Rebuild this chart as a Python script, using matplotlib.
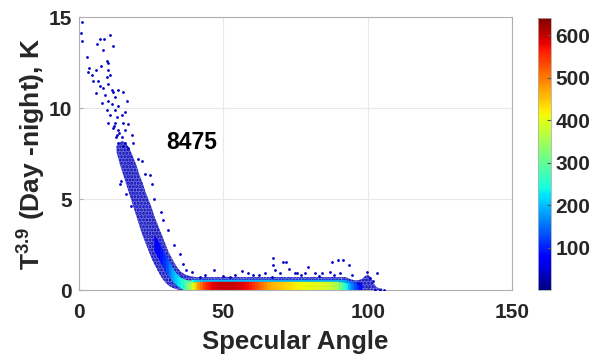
import numpy as np
import matplotlib
matplotlib.use("Agg")
import matplotlib.pyplot as plt
from matplotlib.colors import Normalize

plt.rcParams['font.family'] = ['Liberation Sans', 'DejaVu Sans']
plt.rcParams['font.weight'] = 'bold'
plt.rcParams['mathtext.fontset'] = 'custom'
plt.rcParams['mathtext.rm'] = 'Liberation Sans:bold'
plt.rcParams['mathtext.bf'] = 'Liberation Sans:bold'
plt.rcParams['hatch.linewidth'] = 1.4

# ---- data ----
# sparse individual points in the steep upper part (angle, T)
sparse_angle = [1.1, 0.7, 1.1, 7.3, 10.7, 8.7, 6.1, 8.4, 11.9, 2.7, 9.6, 10.2, 3.5, 3.2,
                5.8, 7.6, 4.4, 9.9, 10.7, 9.6, 6.7, 5.0, 7.3, 8.4, 10.2, 11.3, 5.9, 9.0,
                11.9, 13.6, 15.3, 12.5, 16.5, 10.2, 7.9, 11.3, 13.6, 9.6, 12.5, 15.9, 10.7,
                13.1, 14.8, 10.2, 12.5, 15.3, 17.1, 11.9, 13.6, 15.9, 13.1, 14.8, 18.3,
                13.6, 15.9, 18.8, 15.3, 17.1, 22.9, 25.2, 29.2, 20.5, 14.2, 12.0,
                22.0, 24.5, 26.0, 28.5, 31.0, 33.0, 35.0, 14.5, 16.2, 18.0, 12.8, 14.0]
sparse_t = [14.7, 14.1, 13.7, 13.8, 14.0, 13.8, 13.5, 13.2, 13.4, 12.8, 12.6, 12.5, 12.2, 12.0,
            12.1, 12.3, 11.8, 12.1, 11.8, 11.7, 11.5, 11.5, 11.2, 11.1, 11.3, 11.0, 10.8, 10.7,
            10.9, 11.0, 10.9, 10.6, 10.4, 10.4, 10.3, 10.2, 10.1, 9.9, 9.9, 9.8, 9.6,
            9.5, 9.6, 9.2, 9.2, 9.2, 9.1, 8.9, 8.8, 8.8, 8.5, 8.4, 8.5,
            8.1, 8.1, 8.1, 7.9, 7.8, 6.4, 5.8, 3.85, 7.2, 5.8, 9.0,
            7.1, 6.3, 5.0, 4.3, 3.3, 2.5, 2.0, 6.0, 5.3, 4.6, 8.4, 8.6]

# outliers above the flat band (angle, T)
out_angle = [35.9, 37.1, 39.0, 46.9, 49.8, 52.3, 56.4, 58.6, 60.4, 64.4, 67.1, 67.1, 67.9,
             70.5, 71.7, 72.8, 69.6, 74.8, 66.7, 41.9, 43.6, 87.5, 89.6, 91.5, 93.5, 79.4,
             78.3, 81.7, 84.1, 86.9, 90.4, 94.5, 99.9, 103.3, 75.4, 100.8, 101.9, 96.7,
             102.5, 104.3, 105.5, 54.0, 62.5, 77.0, 83.0, 88.5]
out_t = [1.43, 1.10, 1.00, 1.10, 0.77, 0.73, 1.04, 0.92, 0.82, 0.92, 1.74, 1.37, 1.10,
         1.56, 1.56, 1.14, 0.92, 0.92, 0.73, 0.73, 0.82, 1.52, 1.65, 1.65, 1.36, 1.25,
         0.95, 0.92, 0.95, 0.97, 0.92, 0.82, 1.00, 0.92, 0.92, 0.64, 0.51, 0.37,
         0.02, 0.02, 0.02, 0.80, 0.85, 0.80, 0.78, 0.85]

# outer envelope of the dense cloud, one column per degree
outer_angle = list(range(13, 106))
outer_lo = [7.6, 7.0, 6.5, 6.0, 5.5, 5.0, 4.5, 4.0, 3.5, 3.0,
            2.6, 2.2, 1.8, 1.45, 1.15, 0.85, 0.6, 0.4, 0.25, 0.15,
            0.08, 0.03, 0, 0, 0, 0, 0, 0, 0, 0,
            0, 0, 0, 0, 0, 0, 0, 0, 0, 0,
            0, 0, 0, 0, 0, 0, 0, 0, 0, 0,
            0, 0, 0, 0, 0, 0, 0, 0, 0, 0,
            0, 0, 0, 0, 0, 0, 0, 0, 0, 0,
            0, 0, 0, 0, 0, 0, 0, 0, 0, 0,
            0, 0, 0, 0, 0, 0, 0, 0, 0, 0,
            0, 0, 0]
outer_hi = [7.9, 8.1, 8.2, 8.1, 7.9, 7.6, 7.2, 6.8, 6.3, 5.9,
            5.4, 5.0, 4.6, 4.1, 3.7, 3.3, 2.9, 2.5, 2.1, 1.8,
            1.5, 1.25, 1.05, 0.92, 0.84, 0.78, 0.74, 0.72, 0.7, 0.71,
            0.7, 0.72, 0.7, 0.71, 0.7, 0.72, 0.7, 0.71, 0.73, 0.7,
            0.71, 0.7, 0.72, 0.7, 0.71, 0.7, 0.72, 0.71, 0.7, 0.72,
            0.7, 0.71, 0.7, 0.72, 0.7, 0.71, 0.7, 0.72, 0.71, 0.7,
            0.72, 0.7, 0.71, 0.7, 0.72, 0.7, 0.71, 0.7, 0.72, 0.71,
            0.7, 0.72, 0.7, 0.71, 0.7, 0.72, 0.7, 0.71, 0.7, 0.7,
            0.68, 0.6, 0.55, 0.52, 0.55, 0.6, 0.75, 0.85, 0.7, 0.4,
            0.15, 0.1, 0.08]
outer_den = [35] * 93

# lighter inner streak of the cloud
mid_angle = list(range(26, 99))
mid_lo = [2.2, 1.9, 1.6, 1.3, 1.0, 0.8, 0.6, 0.4, 0.25, 0.15,
          0.05, 0, 0, 0, 0, 0, 0, 0, 0, 0,
          0, 0, 0, 0, 0, 0, 0, 0, 0, 0,
          0, 0, 0, 0, 0, 0, 0, 0, 0, 0,
          0, 0, 0, 0, 0, 0, 0, 0, 0, 0,
          0, 0, 0, 0, 0, 0, 0, 0, 0, 0,
          0, 0, 0, 0, 0, 0, 0, 0, 0, 0,
          0, 0, 0]
mid_hi = [3.0, 2.8, 2.5, 2.2, 1.9, 1.6, 1.3, 1.05, 0.85, 0.7,
          0.62, 0.57, 0.54, 0.53, 0.53, 0.53, 0.53, 0.53, 0.53, 0.53,
          0.53, 0.53, 0.53, 0.53, 0.53, 0.53, 0.53, 0.53, 0.53, 0.53,
          0.53, 0.53, 0.53, 0.53, 0.53, 0.53, 0.53, 0.53, 0.53, 0.53,
          0.53, 0.53, 0.53, 0.53, 0.53, 0.53, 0.53, 0.53, 0.53, 0.53,
          0.53, 0.53, 0.53, 0.53, 0.53, 0.53, 0.53, 0.53, 0.53, 0.53,
          0.53, 0.53, 0.53, 0.53, 0.53, 0.53, 0.53, 0.53, 0.5, 0.45,
          0.42, 0.4, 0.4]
mid_den = [70, 80, 95, 110, 130, 160, 190, 210, 230, 250,
           270, 290, 300, 260, 220, 210, 200, 200, 200, 200,
           200, 200, 200, 200, 200, 200, 200, 200, 200, 200,
           200, 200, 200, 200, 200, 200, 200, 200, 200, 200,
           190, 190, 190, 190, 190, 190, 190, 190, 190, 190,
           190, 190, 190, 190, 190, 190, 190, 190, 190, 190,
           190, 190, 190, 190, 190, 190, 180, 170, 150, 130,
           110, 90, 80]

# dense core along the bottom
core_angle = list(range(37, 97))
core_hi = [0.38, 0.4, 0.42, 0.43, 0.44, 0.44, 0.44, 0.44, 0.44, 0.44,
           0.44, 0.44, 0.44, 0.44, 0.44, 0.44, 0.44, 0.44, 0.44, 0.44,
           0.44, 0.44, 0.44, 0.44, 0.44, 0.44, 0.44, 0.44, 0.44, 0.44,
           0.44, 0.44, 0.44, 0.44, 0.44, 0.44, 0.44, 0.44, 0.44, 0.44,
           0.44, 0.44, 0.44, 0.44, 0.44, 0.44, 0.44, 0.44, 0.44, 0.44,
           0.44, 0.44, 0.44, 0.44, 0.43, 0.4, 0.38, 0.35, 0.32, 0.3]
core_den = [320, 360, 400, 440, 480, 510, 540, 560, 575, 585,
            590, 595, 600, 600, 600, 600, 598, 595, 590, 585,
            580, 575, 565, 550, 535, 520, 505, 490, 475, 465,
            460, 455, 450, 445, 440, 435, 430, 425, 420, 415,
            410, 410, 405, 405, 400, 400, 395, 395, 390, 385,
            375, 365, 350, 320, 280, 240, 200, 165, 135, 115]

count_label = '8475'
xticks = [0, 50, 100, 150]
yticks = [0, 5, 10, 15]
cbar_ticks = [100, 200, 300, 400, 500, 600]
vmin, vmax = 1, 640

# ---- drawing ----
cmap = plt.get_cmap('jet')
norm = Normalize(vmin=vmin, vmax=vmax)
txt = '#262626'
grey = '#b0b0b0'
dot_blue = cmap(norm(40))

fig = plt.figure(figsize=(5.93, 3.59), dpi=100)
ax = fig.add_axes([0.1332, 0.1922, 0.7302, 0.7604])


def band(angle, lo, hi, den, speckled=False):
    # one filled segment per pair of neighbouring columns, coloured by density
    for i in range(len(angle) - 1):
        c = cmap(norm(den[i]))
        if speckled:
            ax.fill_between(angle[i:i + 2], lo[i:i + 2], hi[i:i + 2],
                            facecolor=(c[0], c[1], c[2], 0.6), edgecolor=c,
                            hatch='.....', linewidth=0, zorder=2)
        else:
            ax.fill_between(angle[i:i + 2], lo[i:i + 2], hi[i:i + 2],
                            color=c, linewidth=0.3, zorder=2)


band(outer_angle, outer_lo, outer_hi, outer_den, speckled=True)
band(mid_angle, mid_lo, mid_hi, mid_den)
band(core_angle, [0] * len(core_angle), core_hi, core_den)

ax.scatter(sparse_angle, sparse_t, s=4, color=dot_blue, linewidths=0, zorder=3)
ax.scatter(out_angle, out_t, s=4, color=dot_blue, linewidths=0, zorder=3)

ax.text(30.3, 8.1, count_label, fontsize=16.5, fontweight='bold', color='black', va='center')

ax.set_xlim(0, 150)
ax.set_ylim(0, 15)
ax.set_xticks(xticks)
ax.set_yticks(yticks)
ax.grid(True, color='#e8e8e8', linewidth=0.8)
ax.set_axisbelow(True)
for s in ax.spines.values():
    s.set_color(grey)
    s.set_linewidth(0.8)
ax.tick_params(axis='both', direction='in', length=3, color=grey, labelsize=15,
               labelcolor=txt)
ax.tick_params(axis='x', pad=9)
ax.tick_params(axis='y', pad=5)
ax.set_xlabel('Specular Angle', fontsize=18.5, fontweight='bold', color=txt, labelpad=6)
ax.set_ylabel(r'T$^{3.9}$ (Day -night), K', fontsize=19, fontweight='bold', color=txt,
              labelpad=1)

cax = fig.add_axes([538 / 593, 69 / 359, 13 / 593, 272 / 359])
sm = matplotlib.cm.ScalarMappable(norm=norm, cmap=cmap)
cb = fig.colorbar(sm, cax=cax)
cb.set_ticks(cbar_ticks)
cb.outline.set_edgecolor(grey)
cb.outline.set_linewidth(0.6)
cax.tick_params(direction='in', length=3, color='#555555', labelsize=15, labelcolor=txt, pad=3)

fig.savefig('out.png', dpi=100)
